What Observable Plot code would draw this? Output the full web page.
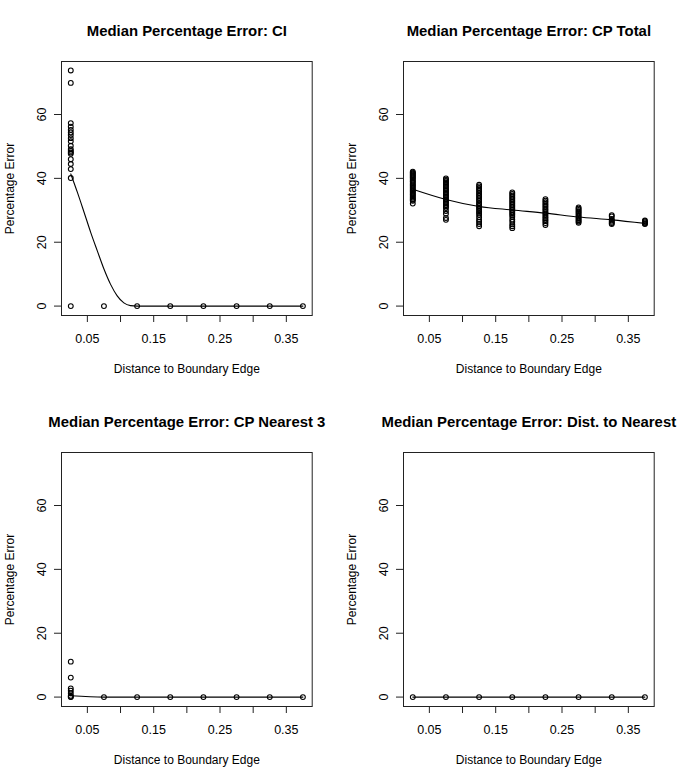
<!DOCTYPE html>
<html>
<head>
<meta charset="utf-8">
<script src="https://cdn.jsdelivr.net/npm/d3@7"></script>
<script src="https://cdn.jsdelivr.net/npm/@observablehq/plot@0.6"></script>
<style>
  html, body { margin: 0; padding: 0; background: #fff; }
  #grid { display: grid; grid-template-columns: 342px 343px; grid-template-rows: 391px 391px; width: 685px; height: 782px; }
  #grid svg { display: block; }
</style>
</head>
<body>
<div id="grid"></div>
<script>
// ---------- data ----------
const distances = [0.025, 0.075, 0.125, 0.175, 0.225, 0.275, 0.325, 0.375];
const xTicks = [0.05, 0.10, 0.15, 0.20, 0.25, 0.30, 0.35];
const xTickLabels = ["0.05", "", "0.15", "", "0.25", "", "0.35"];
const yTicks = [0, 20, 40, 60];
const xLabel = "Distance to Boundary Edge";
const yLabel = "Percentage Error";
const titles = [
  "Median Percentage Error: CI",
  "Median Percentage Error: CP Total",
  "Median Percentage Error: CP Nearest 3",
  "Median Percentage Error: Dist. to Nearest"
];

// CI: points per distance
const ciPoints = [
  [73.8, 69.9, 57.3, 56.2, 55.2, 54.4, 53.6, 52.6, 51.6, 50.2, 49.1, 48.6, 48.1, 47.7, 46.0, 44.5, 42.9, 40.1, 0],
  [0], [0], [0], [0], [0], [0], [0]
];
const ciSmoothX = [0.025, 0.035, 0.045, 0.055, 0.065, 0.075, 0.085, 0.095, 0.105, 0.115, 0.125, 0.175, 0.225, 0.275, 0.325, 0.375];
const ciSmoothY = [41.4, 35.6, 29.4, 23.1, 17.3, 11.6, 6.8, 3.2, 1.0, 0.15, 0, 0, 0, 0, 0, 0];

// CP Total: points per distance
const cpTotalPoints = [
  [42.1, 41.8, 41.5, 41.2, 40.9, 40.6, 40.3, 40.0, 39.6, 39.2, 38.9, 38.5, 38.1, 37.8, 37.4, 37.0, 36.6, 36.2, 35.9, 35.5, 35.1, 34.8, 34.4, 34.0, 33.6, 33.3, 33.0, 32.1],
  [40.0, 39.6, 39.2, 38.8, 38.3, 37.9, 37.5, 37.0, 36.6, 36.1, 35.7, 35.2, 34.8, 34.3, 33.9, 33.4, 33.0, 32.5, 32.1, 31.6, 31.2, 30.7, 29.8, 28.9, 27.6, 27.0],
  [38.0, 37.5, 37.0, 36.5, 36.0, 35.4, 34.9, 34.4, 33.9, 33.4, 32.9, 32.3, 31.8, 31.3, 30.8, 30.3, 29.7, 29.2, 28.6, 27.8, 27.0, 26.4, 25.7, 25.0],
  [35.6, 35.1, 34.6, 34.1, 33.6, 33.1, 32.6, 32.1, 31.6, 31.1, 30.6, 30.1, 29.6, 29.1, 28.6, 28.0, 27.1, 26.4, 25.6, 25.0, 24.4],
  [33.5, 33.0, 32.5, 32.0, 31.5, 31.0, 30.5, 30.0, 29.5, 29.0, 28.5, 28.0, 27.5, 27.0, 26.6, 26.0, 25.4],
  [30.9, 30.5, 30.1, 29.7, 29.3, 28.9, 28.5, 28.1, 27.7, 27.3, 26.9, 26.5, 26.1],
  [28.5, 28.1, 27.3, 26.8, 26.4, 26.0, 25.7],
  [26.8, 26.5, 26.2, 25.9, 25.7]
];
const cpTotalSmoothX = [0.025, 0.075, 0.125, 0.175, 0.225, 0.275, 0.325, 0.375];
const cpTotalSmoothY = [36.6, 33.4, 31.2, 30.1, 29.1, 27.9, 27.0, 25.9];

// CP Nearest 3
const cpN3Points = [
  [11.1, 6.1, 2.7, 2.0, 1.2, 0.4, 0.1, 0],
  [0], [0], [0], [0], [0], [0], [0]
];
const cpN3SmoothX = [0.025, 0.075, 0.125, 0.175, 0.225, 0.275, 0.325, 0.375];
const cpN3SmoothY = [0.4, 0, 0, 0, 0, 0, 0, 0];

// Dist. to Nearest
const distNPoints = [[0], [0], [0], [0], [0], [0], [0], [0]];
const distNSmoothX = [0.025, 0.075, 0.125, 0.175, 0.225, 0.275, 0.325, 0.375];
const distNSmoothY = [0, 0, 0, 0, 0, 0, 0, 0];

// ---------- drawing ----------
const FONT = "'Liberation Sans', Arial, Helvetica, sans-serif";

function panel(title, pointCols, sx, sy, width) {
  const pts = pointCols.flatMap((vals, i) => vals.map(v => ({x: distances[i], y: v})));
  const smooth = sx.map((x, i) => ({x, y: sy[i]}));
  const mid = {textAnchor: "middle", lineAnchor: "middle"};
  return Plot.plot({
    width,
    height: 391,
    marginTop: 61,
    marginBottom: 76,
    marginLeft: 61,
    marginRight: width - 311.7,
    x: {domain: [0.011, 0.389]},
    y: {domain: [-2.95, 76.6]},
    style: {fontFamily: FONT, fontSize: "12px", color: "#000", background: "#fff", overflow: "visible"},
    marks: [
      Plot.frame({stroke: "#222", strokeWidth: 1}),
      Plot.axisX({ticks: xTicks, tickSize: 7, tickPadding: 12, tickFormat: d => xTickLabels[xTicks.indexOf(d)], label: null, stroke: "#222", fontSize: 12.5}),
      Plot.axisY({ticks: yTicks, tickSize: 7, tickFormat: () => "", label: null, stroke: "#222"}),
      Plot.text(yTicks, {y: d => d, text: d => String(d), frameAnchor: "left", dx: -20, rotate: -90, fontSize: 12.5, ...mid}),
      Plot.text([yLabel], {text: d => d, frameAnchor: "left", dx: -51, rotate: -90, fontSize: 12, ...mid}),
      Plot.text([xLabel], {text: d => d, frameAnchor: "bottom", dy: 53.5, fontSize: 12, ...mid}),
      Plot.text([title], {text: d => d, frameAnchor: "top", dy: -30.5, fontSize: 14.9, fontWeight: "bold", ...mid}),
      Plot.line(smooth, {x: "x", y: "y", stroke: "#000", strokeWidth: 1.1, curve: "monotone-x"}),
      Plot.dot(pts, {x: "x", y: "y", r: 2.4, stroke: "#000", strokeWidth: 1.1, fill: "none"})
    ]
  });
}

const grid = document.getElementById("grid");
grid.append(
  panel(titles[0], ciPoints, ciSmoothX, ciSmoothY, 342),
  panel(titles[1], cpTotalPoints, cpTotalSmoothX, cpTotalSmoothY, 343),
  panel(titles[2], cpN3Points, cpN3SmoothX, cpN3SmoothY, 342),
  panel(titles[3], distNPoints, distNSmoothX, distNSmoothY, 343)
);
</script>
</body>
</html>
